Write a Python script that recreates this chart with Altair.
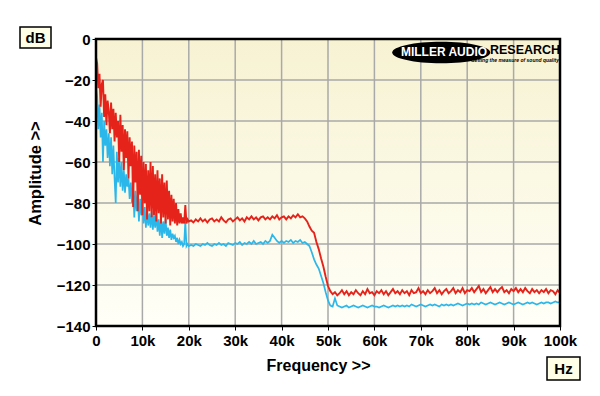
import altair as alt
import pandas as pd

# ---------------- data ----------------
# 0 .. 20 kHz, every 250 Hz
red_low = [-9, -12, -24, -17, -33, -22, -20, -38, -27, -42, -30, -35, -46, -31, -44, -34,
           -50, -36, -48, -40, -60, -37, -55, -42, -64, -44, -58, -45, -68, -48, -62, -50,
           -82, -52, -70, -55, -84, -54, -76, -57, -86, -60, -80, -61, -88, -64, -84, -60,
           -87, -62, -86, -66, -89, -64, -85, -68, -90, -66, -87, -70, -90, -69, -88, -74,
           -91, -76, -89, -78, -90, -80, -91, -83, -90, -85, -90, -87, -90, -81, -90, -88, -89]
cyan_low = [-22, -28, -44, -32, -48, -36, -60, -40, -52, -44, -58, -46, -62, -48, -66, -52,
            -68, -80, -55, -70, -58, -72, -60, -74, -64, -75, -66, -72, -68, -78, -70, -80,
            -72, -87, -74, -84, -76, -89, -78, -86, -80, -90, -82, -92, -84, -91, -85, -92,
            -84, -93, -86, -92, -85, -94, -88, -96, -87, -97, -89, -95, -88, -96, -92, -97,
            -93, -98, -95, -97, -96, -99, -97, -100, -98, -100, -99, -101, -100, -89, -101, -100, -101]
# 20.5 .. 100 kHz, every 500 Hz
red_high = [-88.5, -89.5, -88, -89, -87.5, -89, -88, -89.5, -88, -87.5,
            -89, -88, -89, -87, -88.5, -89.5, -88, -87.5, -89, -88,
            -87, -88.5, -87.5, -89, -87, -88, -86.5, -88, -87, -88.5,
            -87, -86.5, -88, -87, -88, -86.5, -87.5, -86, -88, -87,
            -86.5, -88, -86.5, -87.5, -86, -87, -85.5, -87, -86.5,
            -87.5, -89, -91.5, -93.5, -94.5, -99, -102.5, -107, -111, -116, -120.5, -123, -124.5,
            -123.5, -125, -124, -122.5, -124.5, -123, -125, -123.5, -124.5, -122.5,
            -124, -125, -123, -124.5, -122, -124, -123.5, -125, -123, -124,
            -122.5, -124.5, -123, -125, -123.5, -122, -124, -123, -124.5, -122.5,
            -124, -123, -125, -122.5, -124, -123.5, -121.5, -124, -123, -124.5,
            -122.5, -124, -123, -121.5, -124, -122.5, -124.5, -123, -122, -124,
            -123, -121.5, -124, -122.5, -123.5, -121.5, -124, -122.5, -123, -121.5,
            -123.5, -122, -120.5, -123.5, -122, -124, -122.5, -121, -123.5, -122,
            -123.5, -122, -121, -123.5, -122.5, -124, -122, -123, -121.5, -123.5,
            -122, -123.5, -121.5, -123, -124, -122, -123.5, -122.5, -124, -122.5,
            -123.5, -122, -124, -122.5, -123, -124.5, -122.5, -124]
cyan_high = [-100.5, -101, -100, -100.5, -101, -100, -100.5, -99.5, -100.5, -101,
             -100, -100.5, -99.5, -100.5, -100, -101, -99.5, -100, -100.5, -99.5,
             -100, -99, -100.5, -99.5, -100, -99, -100, -98.5, -100, -99.5,
             -99, -100, -98.5, -99.5, -98.5, -95.5, -97, -98.5, -99.5, -98.5,
             -99.5, -98.5, -99, -98, -99.5, -98.5, -99, -98, -99.5,
             -99, -100, -101, -104, -107.5, -110, -112, -115.5, -119, -123.5, -127.5, -130, -130.5,
             -126.5, -130, -130.5, -131, -130.5, -130, -131, -130.5, -130, -130.5,
             -131, -130.5, -130, -130.5, -131, -130.5, -130, -130.5, -130.5, -131,
             -130.5, -130, -130.5, -131, -130.5, -130, -130.5, -130, -130.5, -130,
             -130.5, -130, -130.5, -129.5, -130, -130.5, -130, -129.5, -130, -130.5,
             -130, -129.5, -130, -129.5, -130, -130.5, -129.5, -130, -129.5, -130,
             -129.5, -130, -129.5, -129, -129.5, -130, -129.5, -129, -129.5, -129,
             -129.5, -129, -129.5, -128.5, -129, -129.5, -129, -128.5, -129, -129.5,
             -129, -128.5, -129, -129.5, -129, -128.5, -129, -129.5, -129, -128.5,
             -129, -129.5, -129, -128.5, -129, -128.5, -129, -129.5, -129, -128.5,
             -129, -128.5, -128.5, -129, -128.5, -128, -128.5, -128.5]

freq_low = [i * 250 for i in range(len(red_low))]
freq_high = [20500 + i * 500 for i in range(len(red_high))]
freq = freq_low + freq_high

x_ticks = [0, 10000, 20000, 30000, 40000, 50000, 60000, 70000, 80000, 90000, 100000]
y_ticks = [0, -20, -40, -60, -80, -100, -120, -140]

red_df = pd.DataFrame({"freq": freq, "db": red_low + red_high})
cyan_df = pd.DataFrame({"freq": freq, "db": cyan_low + cyan_high})

# ---------------- chart ----------------
W, H = 464, 287
FONT = "Liberation Sans"
RED = "#E5231A"
CYAN = "#2BB7EA"

xs = alt.Scale(domain=[0, 100000], nice=False, zero=False)
ys = alt.Scale(domain=[-140, 0], nice=False, zero=False)

xaxis = alt.Axis(values=x_ticks, grid=False, domain=False, tickColor="black", tickSize=4,
                 labelPadding=3, labelFont=FONT, labelFontSize=15, labelFontWeight="bold",
                 labelColor="black", labelFlush=False, labelOverlap=False,
                 labelExpr="datum.value == 0 ? '0' : (datum.value / 1000) + 'k'",
                 title="Frequency >>", titleFont=FONT, titleFontSize=16, titleFontWeight="bold",
                 titleColor="black", titleX=222, titleY=39, titleBaseline="middle")
yaxis = alt.Axis(values=y_ticks, grid=False, domain=False, tickColor="black", tickSize=4,
                 labelPadding=2, labelFont=FONT, labelFontSize=15, labelFontWeight="bold",
                 labelColor="black", labelOverlap=False, format="d",
                 title="Amplitude >>", titleFont=FONT, titleFontSize=16.5, titleFontWeight="bold",
                 titleColor="black", titleX=-61, titleY=134, titleAngle=270,
                 titleBaseline="middle")

one = pd.DataFrame({"a": [0]})

bg = alt.Chart(one).mark_rect(
    fill=alt.LinearGradient(gradient="linear", x1=0, y1=0, x2=0, y2=1,
                            stops=[alt.GradientStop(offset=0, color="#F7F2D2"),
                                   alt.GradientStop(offset=0.6, color="#FCFAE8"),
                                   alt.GradientStop(offset=1, color="#FFFFF8")])
).encode(x=alt.value(0), x2=alt.value(W), y=alt.value(0), y2=alt.value(H))

vgrid = alt.Chart(pd.DataFrame({"v": x_ticks})).mark_rule(color="#A9A9A9", strokeWidth=1.5).encode(
    x=alt.X("v:Q", scale=xs, axis=xaxis))
hgrid = alt.Chart(pd.DataFrame({"v": y_ticks})).mark_rule(color="#A9A9A9", strokeWidth=1.5).encode(
    y=alt.Y("v:Q", scale=ys, axis=yaxis))

cyan = alt.Chart(cyan_df).mark_line(color=CYAN, strokeWidth=1.7).encode(
    x=alt.X("freq:Q", scale=xs, axis=xaxis), y=alt.Y("db:Q", scale=ys, axis=yaxis))
red = alt.Chart(red_df).mark_line(color=RED, strokeWidth=1.9).encode(
    x=alt.X("freq:Q", scale=xs, axis=xaxis), y=alt.Y("db:Q", scale=ys, axis=yaxis))

# logo
ellipse = alt.Chart(pd.DataFrame({"x": [74400], "y": [-6.6]})).mark_point(
    shape="M -1 0 A 1 0.22 0 1 1 1 0 A 1 0.22 0 1 1 -1 0 Z",
    filled=True, color="black", opacity=1, size=98 * 98, strokeWidth=0
).encode(x=alt.X("x:Q", scale=xs), y=alt.Y("y:Q", scale=ys))
logo1 = alt.Chart(pd.DataFrame({"x": [75000], "y": [-6.3], "t": ["MILLER AUDIO"]})).mark_text(
    font=FONT, fontSize=12, fontWeight="bold", color="white", align="center", baseline="middle"
).encode(x=alt.X("x:Q", scale=xs), y=alt.Y("y:Q", scale=ys), text="t:N")
logo2 = alt.Chart(pd.DataFrame({"x": [84900], "y": [-5.6], "t": ["RESEARCH"]})).mark_text(
    font=FONT, fontSize=12.5, fontWeight="bold", color="black", align="left", baseline="middle"
).encode(x=alt.X("x:Q", scale=xs), y=alt.Y("y:Q", scale=ys), text="t:N")
logo3 = alt.Chart(pd.DataFrame({"x": [99800], "y": [-10.0], "t": ["Getting the measure of sound quality"]})).mark_text(
    font=FONT, fontSize=5, fontWeight="bold", fontStyle="italic", color="black", align="right",
    baseline="middle"
).encode(x=alt.X("x:Q", scale=xs), y=alt.Y("y:Q", scale=ys), text="t:N")

frame = alt.Chart(one).mark_rect(filled=False, color="black", strokeWidth=2.5).encode(
    x=alt.value(0), x2=alt.value(W), y=alt.value(0), y2=alt.value(H))

# unit boxes
db_box = alt.Chart(one).mark_rect(fill="#FFFFE8", stroke="black", strokeWidth=1.5).encode(
    x=alt.value(-76), x2=alt.value(-45), y=alt.value(-12), y2=alt.value(9))
db_txt = alt.Chart(pd.DataFrame({"t": ["dB"]})).mark_text(
    font=FONT, fontSize=15, fontWeight="bold", color="black", align="center", baseline="middle"
).encode(x=alt.value(-60.5), y=alt.value(-1.5), text="t:N")
hz_box = alt.Chart(one).mark_rect(fill="#FFFFE8", stroke="black", strokeWidth=1.5).encode(
    x=alt.value(451), x2=alt.value(484), y=alt.value(318), y2=alt.value(341))
hz_txt = alt.Chart(pd.DataFrame({"t": ["Hz"]})).mark_text(
    font=FONT, fontSize=15, fontWeight="bold", color="black", align="center", baseline="middle"
).encode(x=alt.value(467.5), y=alt.value(329.5), text="t:N")

chart = alt.layer(bg, vgrid, hgrid, cyan, red, ellipse, logo1, logo2, logo3, frame,
                  db_box, db_txt, hz_box, hz_txt).properties(
    width=W, height=H, autosize="none",
    padding={"left": 88, "top": 31, "right": 24, "bottom": 55},
    background="white"
).configure_view(strokeWidth=0)

chart.save("out.html", embed_options={"renderer": "svg", "actions": False})
